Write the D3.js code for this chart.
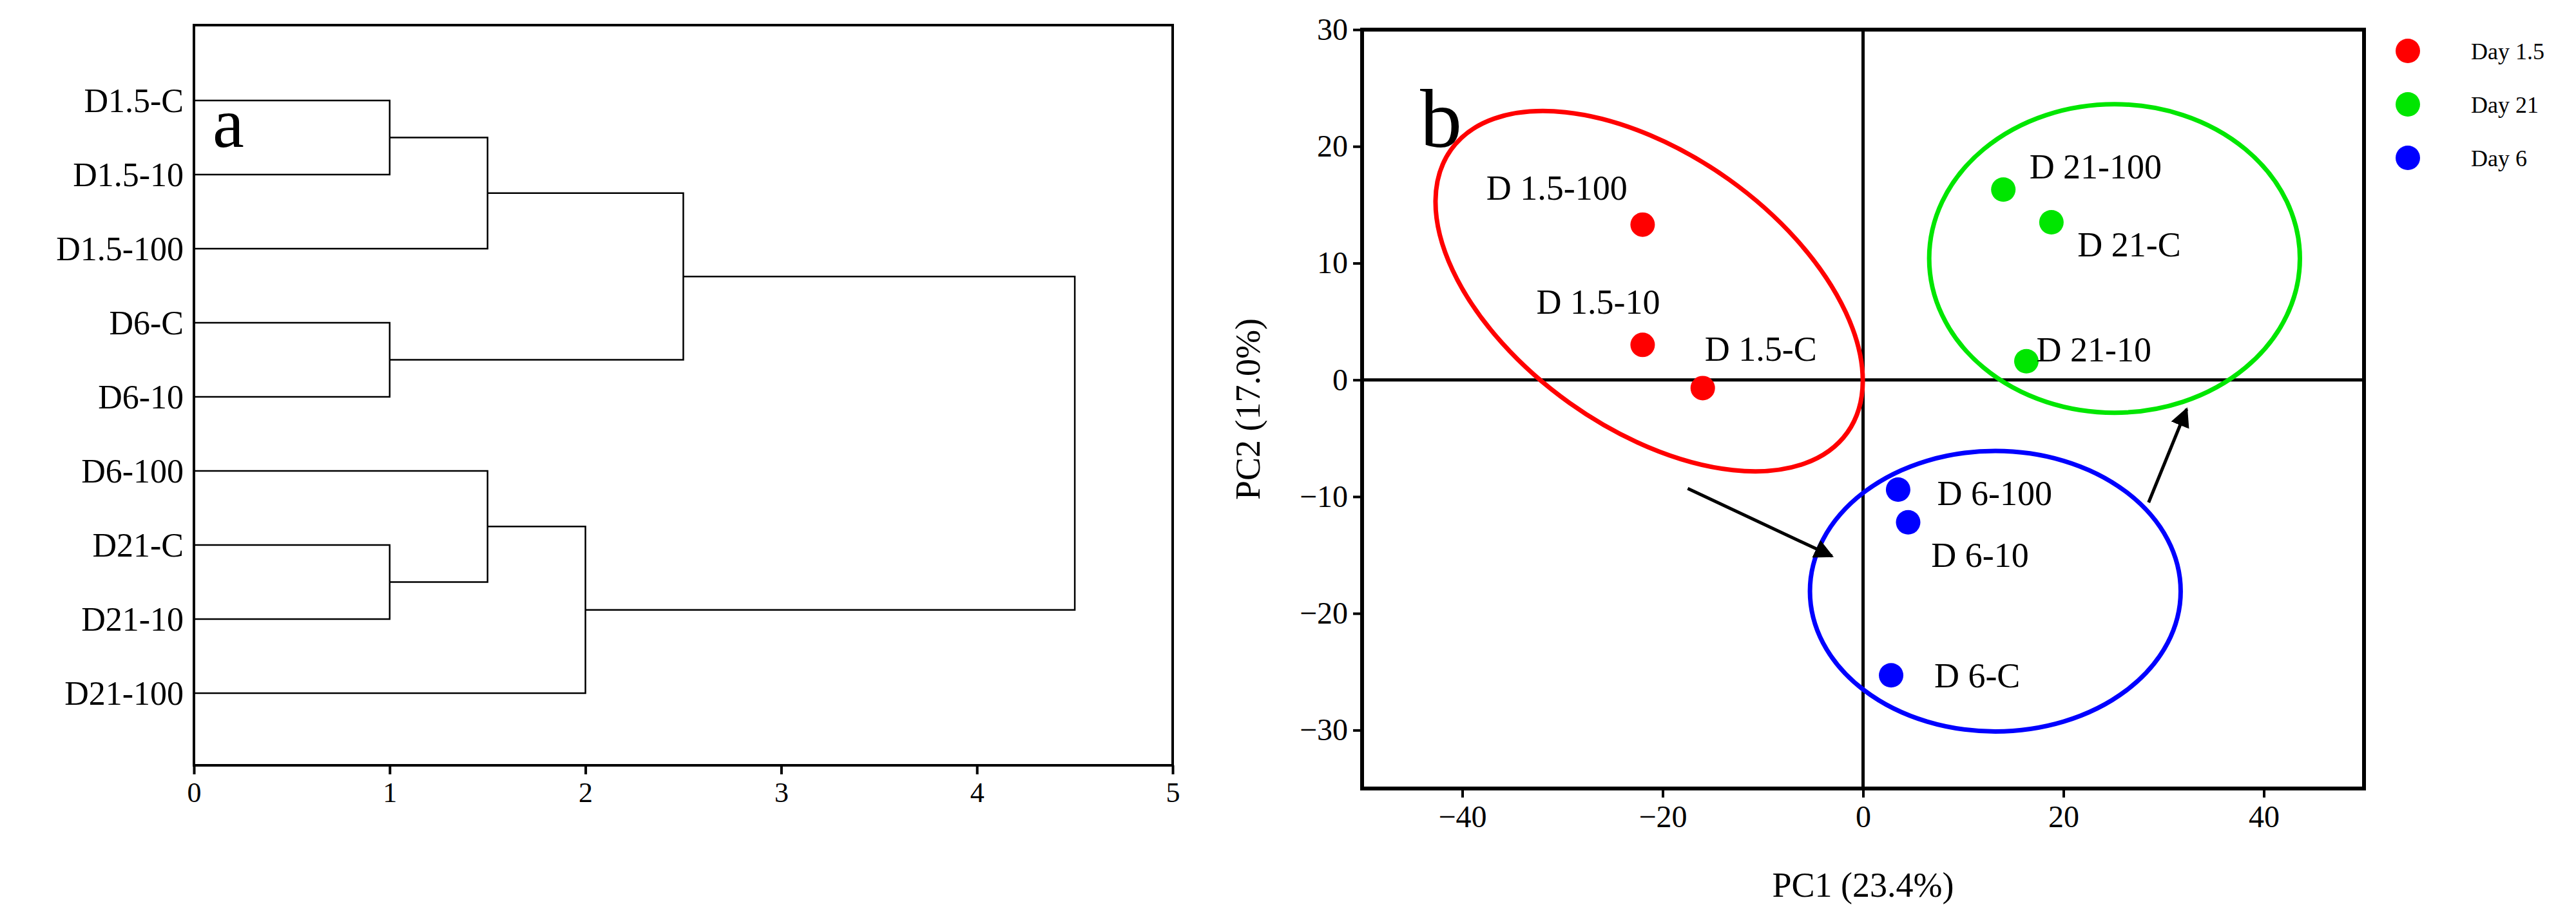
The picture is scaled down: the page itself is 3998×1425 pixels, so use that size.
<!DOCTYPE html>
<html><head><meta charset="utf-8">
<script src="https://d3js.org/d3.v7.min.js"></script>
<style>body{margin:0;background:#fff}text{font-family:"Liberation Serif","DejaVu Serif",serif}</style>
</head><body>
<script>
// ---- data: dendrogram (a)
const leaves = ["D1.5-C","D1.5-10","D1.5-100","D6-C","D6-10","D6-100","D21-C","D21-10","D21-100"];
// merges: [left, right, height]; numbers refer to leaf index, strings "m0".. to previous merges
const merges = [
  [0, 1, 1.0], [ "m0", 2, 1.5], [3, 4, 1.0], ["m1", "m2", 2.5],
  [6, 7, 1.0], [5, "m4", 1.5], ["m5", 8, 2.0], ["m3", "m6", 4.5]
];
const distTicks = [0, 1, 2, 3, 4, 5];

// ---- data: PCA (b)
const groups = ["Day 1.5", "Day 21", "Day 6"];
const groupColors = ["#ff0000", "#00e600", "#0000ff"];
const pointNames = ["D 1.5-100","D 1.5-10","D 1.5-C","D 21-100","D 21-C","D 21-10","D 6-100","D 6-10","D 6-C"];
const pointGroup = [0,0,0,1,1,1,2,2,2];
const pc1 = [-22, -22, -16, 14, 18.8, 16.3, 3.5, 4.5, 2.8];
const pc2 = [13.3, 3, -0.7, 16.3, 13.5, 1.6, -9.4, -12.2, -25.3];
const labelX = [-37.6, -32.6, -15.8, 16.6, 21.4, 17.3, 7.4, 6.8, 7.1];
const labelY = [16.5, 6.7, 2.7, 18.3, 11.6, 2.6, -9.7, -15, -25.3];
// ellipses: center (pc1, pc2), semi-axes in pc1 units, rotation deg
const ellCx = [-21.35, 25.1, 13.2], ellCy = [7.6, 10.4, -18.1];
const ellA = [24.3, 18.5, 18.5], ellB = [13.7, 15.4, 14.0], ellRot = [35.5, 0, 0];
const arrowFrom = [[-17.5, -9.3], [28.5, -10.5]];
const arrowTo = [[-3.1, -15.1], [32.3, -2.5]];
const xTicks = [-40, -20, 0, 20, 40], yTicks = [-30, -20, -10, 0, 10, 20, 30];

const svg = d3.select("body").append("svg").attr("width", 3998).attr("height", 1425);

// ================= panel a
const ax = d3.scaleLinear().domain([0, 5]).range([301, 1820]);
const ay = d3.scalePoint().domain(leaves).range([156, 1076]);
const ga = svg.append("g");
ga.append("rect").attr("x", 301).attr("y", 39).attr("width", 1519).attr("height", 1149)
  .attr("fill", "none").attr("stroke", "#000").attr("stroke-width", 4);
ga.append("g").attr("transform", "translate(0,1188)")
  .call(d3.axisBottom(ax).tickValues(distTicks).tickFormat(d3.format("d")).tickSize(14).tickPadding(12))
  .call(g => { g.select(".domain").remove(); g.selectAll("line").attr("stroke-width", 4);
    g.selectAll("text").attr("font-size", 44).attr("font-family", "Liberation Serif"); });
ga.selectAll(".leaf").data(leaves).join("text")
  .attr("x", 285).attr("y", d => ay(d)).attr("dy", "0.35em").attr("text-anchor", "end")
  .attr("font-size", 52).text(d => d);
const node = [];
const pos = r => typeof r === "number" ? {x: 0, y: ay(leaves[r])} : node[+r.slice(1)];
merges.forEach(([l, r, h]) => {
  const a = pos(l), b = pos(r), hx = ax(h);
  ga.append("path").attr("fill", "none").attr("stroke", "#000").attr("stroke-width", 2.5)
    .attr("d", `M${ax(a.x)},${a.y}H${hx}V${b.y}H${ax(b.x)}`);
  node.push({x: h, y: (a.y + b.y) / 2});
});
ga.append("text").attr("x", 330).attr("y", 228).attr("font-size", 110).text("a");

// ================= panel b
const bx = d3.scaleLinear().domain([-50, 50]).range([2114, 3669]);
const by = d3.scaleLinear().domain([-35, 30]).range([1224, 46]);
const gb = svg.append("g");
const defs = svg.append("defs");
defs.append("marker").attr("id", "ah").attr("viewBox", "0 0 10 10").attr("refX", 9).attr("refY", 5)
  .attr("markerWidth", 6).attr("markerHeight", 6).attr("orient", "auto")
  .append("path").attr("d", "M0,0L10,5L0,10z").attr("fill", "#000");

gb.append("g").attr("transform", "translate(0,1224)")
  .call(d3.axisBottom(bx).tickValues(xTicks).tickSize(14).tickPadding(12).tickFormat(d => d < 0 ? "\u2212" + (-d) : d))
  .call(g => { g.select(".domain").remove(); g.selectAll("line").attr("stroke-width", 4);
    g.selectAll("text").attr("font-size", 48).attr("font-family", "Liberation Serif"); });
gb.append("g").attr("transform", "translate(2114,0)")
  .call(d3.axisLeft(by).tickValues(yTicks).tickSize(14).tickPadding(8).tickFormat(d => d < 0 ? "\u2212" + (-d) : d))
  .call(g => { g.select(".domain").remove(); g.selectAll("line").attr("stroke-width", 4);
    g.selectAll("text").attr("font-size", 48).attr("font-family", "Liberation Serif"); });
gb.append("rect").attr("x", bx(-50)).attr("y", by(30)).attr("width", bx(50) - bx(-50)).attr("height", by(-35) - by(30))
  .attr("fill", "none").attr("stroke", "#000").attr("stroke-width", 6);
gb.append("line").attr("x1", bx(0)).attr("x2", bx(0)).attr("y1", by(30)).attr("y2", by(-35)).attr("stroke", "#000").attr("stroke-width", 5);
gb.append("line").attr("x1", bx(-50)).attr("x2", bx(50)).attr("y1", by(0)).attr("y2", by(0)).attr("stroke", "#000").attr("stroke-width", 5);

const kx = bx(1) - bx(0);
gb.selectAll(".ell").data(groups).join("ellipse")
  .attr("cx", 0).attr("cy", 0)
  .attr("rx", (d, i) => ellA[i] * kx).attr("ry", (d, i) => ellB[i] * kx)
  .attr("transform", (d, i) => `translate(${bx(ellCx[i])},${by(ellCy[i])}) rotate(${ellRot[i]})`)
  .attr("fill", "none").attr("stroke", (d, i) => groupColors[i]).attr("stroke-width", 7);

arrowFrom.forEach((f, i) => gb.append("line")
  .attr("x1", bx(f[0])).attr("y1", by(f[1])).attr("x2", bx(arrowTo[i][0])).attr("y2", by(arrowTo[i][1]))
  .attr("stroke", "#000").attr("stroke-width", 5).attr("marker-end", "url(#ah)"));

gb.selectAll(".pt").data(pointNames).join("circle")
  .attr("cx", (d, i) => bx(pc1[i])).attr("cy", (d, i) => by(pc2[i])).attr("r", 19)
  .attr("fill", (d, i) => groupColors[pointGroup[i]]);
gb.selectAll(".pl").data(pointNames).join("text")
  .attr("x", (d, i) => bx(labelX[i])).attr("y", (d, i) => by(labelY[i])).attr("dy", "0.35em")
  .attr("font-size", 54).text(d => d);

gb.append("text").attr("x", 2204).attr("y", 228).attr("font-size", 130).text("b");
gb.append("text").attr("x", (bx(-50) + bx(50)) / 2).attr("y", 1392).attr("text-anchor", "middle")
  .attr("font-size", 54).text("PC1 (23.4%)");
gb.append("text").attr("transform", `translate(1955,${(by(30) + by(-35)) / 2}) rotate(-90)`)
  .attr("text-anchor", "middle").attr("font-size", 54).text("PC2 (17.0%)");

const lg = gb.selectAll(".lg").data(groups).join("g")
  .attr("transform", (d, i) => `translate(3737,${79 + i * 83})`);
lg.append("circle").attr("r", 19).attr("fill", (d, i) => groupColors[i]);
lg.append("text").attr("x", 98).attr("dy", "0.35em").attr("font-size", 36).text(d => d);
</script>
</body></html>
